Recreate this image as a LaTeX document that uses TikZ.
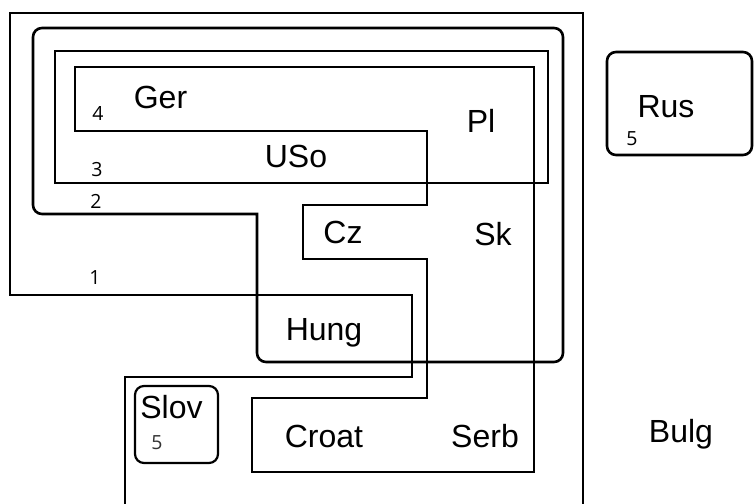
\documentclass[tikz,border=0pt]{standalone}
\usepackage{fontspec}
\setmainfont{Liberation Sans}
\newfontfamily\digitfont{Open Sans}
\begin{document}
\begin{tikzpicture}[x=1pt,y=-1pt,
  region/.style={draw=black, line width=2.6pt, line join=miter},
  soft/.style={region, rounded corners=9pt},
  country/.style={font=\fontsize{32}{32}\selectfont, anchor=base, inner sep=0pt},
  level/.style={font=\digitfont\fontsize{19.5}{19.5}\selectfont, anchor=base, inner sep=0pt}]
\useasboundingbox (0,0) rectangle (754,503);
\clip (0,0) rectangle (754,503);

% level 1: big outer region, running off the bottom
\draw[region] (10,13) -- (583,13) -- (583,515) -- (125,515) -- (125,377)
  -- (412,377) -- (412,295) -- (10,295) -- cycle;

% level 2: rounded region with one sharp inner corner
\draw[region] (145,214) -- (257,214) [rounded corners=9pt] -- (257,362)
  -- (563,362) -- (563,28) -- (33,28) -- (33,214) -- cycle;

% level 3: plain rectangle
\draw[region] (55,51) rectangle (548,183);

% level 4: notched region
\draw[region] (75,67) -- (534,67) -- (534,472) -- (252,472) -- (252,398)
  -- (427,398) -- (427,259) -- (303,259) -- (303,205) -- (427,205)
  -- (427,131) -- (75,131) -- cycle;

% level 5: two small islands
\draw[soft] (607,52) rectangle (752,155);
\draw[soft, line width=2.2pt] (135,386) rectangle (218,463);

% country labels
\node[country] (ger)   at (160.5,108) {Ger};
\node[country] (uso)   at (296,167)   {USo};
\node[country] (pl)    at (481,132)   {Pl};
\node[country] (cz)    at (343,243)   {Cz};
\node[country] (sk)    at (493,245)   {Sk};
\node[country] (rus)   at (666,117)   {Rus};
\node[country] (hung)  at (324,340)   {Hung};
\node[country] (slov)  at (171.5,418) {Slov};
\node[country] (croat) at (324,447)   {Croat};
\node[country] (serb)  at (485,447)   {Serb};
\node[country] (bulg)  at (681,442)   {Bulg};

% level numbers
\node[level] (n4) at (98,120.5)  {4};
\node[level] (n3) at (97,176.5)  {3};
\node[level] (n2) at (96,208)    {2};
\node[level] (n1) at (95,284)    {1};
\node[level] (n5r) at (632,145)  {5};
\node[level, text=black!80] (n5s) at (157,449) {5};
\end{tikzpicture}
\end{document}
